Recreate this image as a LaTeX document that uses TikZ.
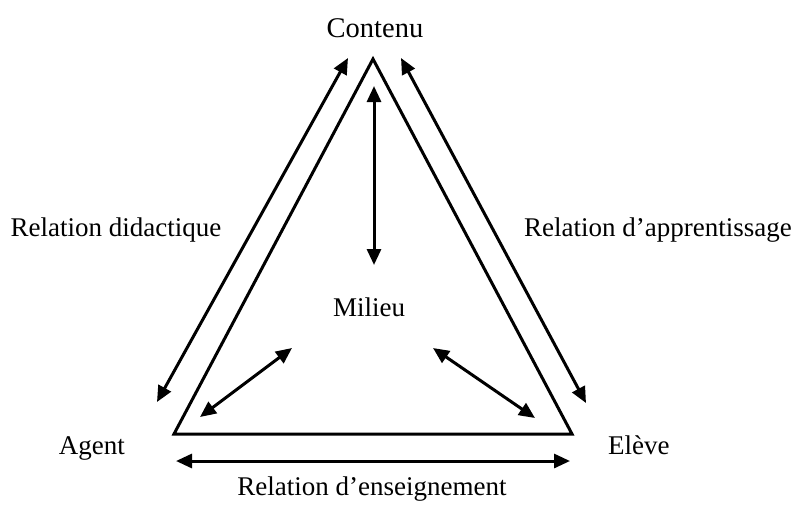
\documentclass[tikz,border=0pt]{standalone}
\usepackage{fontspec}
\setmainfont{Liberation Serif}
\usetikzlibrary{arrows.meta}
\begin{document}
\begin{tikzpicture}[x=1pt,y=-1pt,
  lbl/.style={inner sep=0pt,font=\fontsize{27}{32}\selectfont},
  big/.style={inner sep=0pt,font=\fontsize{28.5}{34}\selectfont},
  edge/.style={line width=3pt,line join=miter},
  rel/.style={line width=3pt,{Triangle[length=16pt,width=14pt]}-{Triangle[length=16pt,width=14pt]}}]
\useasboundingbox (0,0) rectangle (794,504);
% triangle vertices
\coordinate (top) at (373,59);
\coordinate (bl) at (174,434);
\coordinate (br) at (572,434);
\draw[edge] (top) -- (bl) -- (br) -- cycle;
% labels
\node[big,anchor=base] (contenu) at (375,37) {Contenu};
\node[lbl,anchor=base] (milieu) at (369,316) {Milieu};
\node[lbl,anchor=base east] (agent) at (125,454) {Agent};
\node[lbl,anchor=base west] (eleve) at (608,454) {Elève};
\node[lbl,anchor=base] (rdid) at (116,236) {Relation didactique};
\node[lbl,anchor=base] (rapp) at (658,236) {Relation d’apprentissage};
\node[lbl,anchor=base] (rens) at (372,495) {Relation d’enseignement};
% arrow end points
\coordinate (lA) at (348,58);
\coordinate (lB) at (157,402);
\coordinate (rA) at (401,58);
\coordinate (rB) at (586,403);
\coordinate (vA) at (374,86);
\coordinate (vB) at (374,265);
\coordinate (ilA) at (292,348);
\coordinate (ilB) at (200,417);
\coordinate (irA) at (433,348);
\coordinate (irB) at (535,418);
\coordinate (bA) at (176,461);
\coordinate (bB) at (570,461);
\draw[rel] (lA) -- (lB);
\draw[rel] (rA) -- (rB);
\draw[rel] (vA) -- (vB);
\draw[rel] (ilA) -- (ilB);
\draw[rel] (irA) -- (irB);
\draw[rel] (bA) -- (bB);
\end{tikzpicture}
\end{document}
